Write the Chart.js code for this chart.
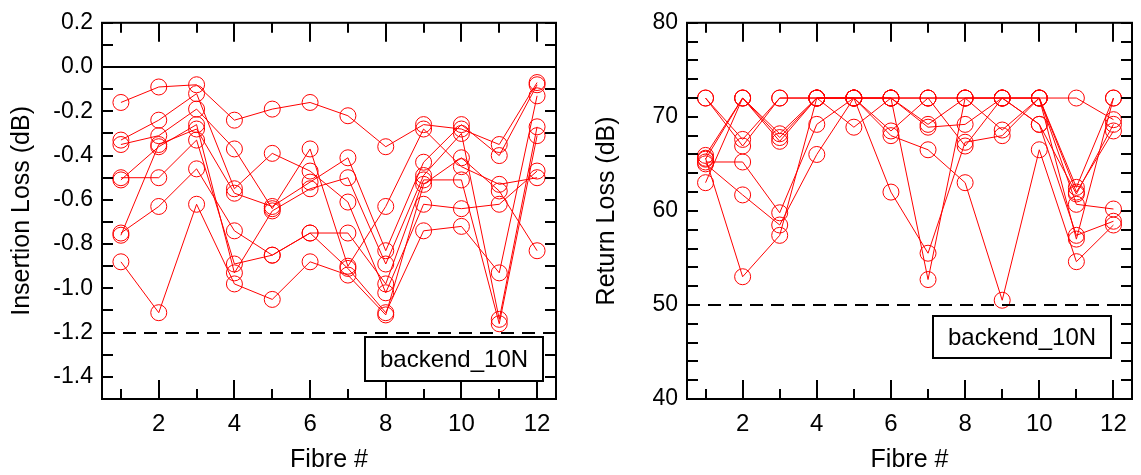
<!DOCTYPE html>
<html>
<head>
<meta charset="utf-8">
<script src="https://cdn.jsdelivr.net/npm/chart.js@4.4.0/dist/chart.umd.min.js"></script>
<style>
  body { margin: 0; background: #fff; }
  canvas { position: absolute; top: 0; }
  #ilChart { left: 0; }
  #rlChart { left: 570px; }
</style>
</head>
<body>
<canvas id="ilChart" width="570" height="475"></canvas>
<canvas id="rlChart" width="571" height="475"></canvas>
<script>
//#region data
const fibres = [1, 2, 3, 4, 5, 6, 7, 8, 9, 10, 11, 12];

// insertion loss (dB), one array per measured connector
const il1 = [-0.16, -0.09, -0.08, -0.24, -0.19, -0.16, -0.22, -0.36, -0.26, -0.28, -0.35, -0.07];
const il2 = [-0.33, -0.24, -0.12, -0.55, -0.39, -0.47, -0.61, -1.02, -0.62, -0.64, -0.62, -0.47];
const il3 = [-0.35, -0.31, -0.19, -0.37, -0.64, -0.37, -0.90, -0.63, -0.28, -0.45, -0.53, -0.50];
const il4 = [-0.50, -0.50, -0.33, -0.89, -0.85, -0.75, -0.91, -1.11, -0.74, -0.72, -0.93, -0.13];
const il5 = [-0.51, -0.36, -0.26, -0.93, -0.65, -0.55, -0.50, -0.89, -0.49, -0.30, -1.14, -0.27];
const il6 = [-0.75, -0.63, -0.46, -0.74, -0.85, -0.75, -0.75, -0.98, -0.51, -0.51, -1.16, -0.31];
const il7 = [-0.76, -0.35, -0.28, -0.57, -0.63, -0.52, -0.41, -0.83, -0.43, -0.26, -0.40, -0.08];
const il8 = [-0.88, -1.11, -0.62, -0.98, -1.05, -0.88, -0.94, -1.12, -0.53, -0.41, -0.56, -0.83];

// return loss (dB)
const rl1 = [72, 66.9, 72, 72, 72, 72, 72, 72, 72, 72, 72, 69.7];
const rl2 = [65.9, 72, 68.2, 72, 72, 68.5, 72, 72, 68.6, 72, 62.5, 72];
const rl3 = [65.5, 72, 67.8, 72, 68.9, 72, 69.2, 72, 72, 69.2, 61.8, 69.2];
const rl4 = [65.2, 65.2, 59.8, 69.2, 72, 72, 68.9, 69.2, 72, 72, 62.0, 68.5];
const rl5 = [65.0, 61.7, 58.5, 66.0, 72, 62.0, 55.5, 67.3, 68.0, 72, 60.7, 60.2];
const rl6 = [63.0, 72, 67.4, 72, 72, 72, 52.7, 72, 72, 69.2, 57.4, 58.9];
const rl7 = [65.6, 53.0, 57.4, 72, 72, 68.0, 66.5, 63.0, 50.5, 66.5, 54.6, 58.5];
const rl8 = [72, 67.6, 72, 72, 72, 72, 72, 66.9, 72, 72, 57.0, 72];

const limitIL = -1.2;
const limitRL = 50;
const legendText = "backend_10N";
//#endregion

Chart.defaults.font.family = "'Liberation Sans', Arial, sans-serif";
Chart.defaults.color = "#000";

function makeDataset(values) {
  return {
    data: values.map((v, i) => ({ x: fibres[i], y: v })),
    borderColor: "#ff0000",
    borderWidth: 1,
    tension: 0,
    fill: false,
    pointStyle: "circle",
    pointRadius: 8,
    pointBorderWidth: 1,
    pointBorderColor: "#ff0000",
    pointBackgroundColor: "rgba(0,0,0,0)",
  };
}

// frame, inward ticks on all sides, reference lines and the label box
const framePlugin = {
  id: "frame",
  afterDatasetsDraw(chart, args, opts) {
    const { ctx, chartArea: a, scales } = chart;
    const x = scales.x, y = scales.y;
    ctx.save();
    ctx.strokeStyle = "#000";
    ctx.lineWidth = 2;

    // x ticks: long at labelled (even) fibres
    x.ticks.forEach(t => {
      const px = Math.round(x.getPixelForValue(t.value));
      const len = t.value % 2 === 0 ? 19 : 10;
      ctx.beginPath();
      ctx.moveTo(px, a.bottom); ctx.lineTo(px, a.bottom - len);
      ctx.moveTo(px, a.top); ctx.lineTo(px, a.top + len);
      ctx.stroke();
    });
    y.ticks.forEach(t => {
      const py = Math.round(y.getPixelForValue(t.value));
      ctx.beginPath();
      ctx.moveTo(a.left, py); ctx.lineTo(a.left + 11, py);
      ctx.moveTo(a.right, py); ctx.lineTo(a.right - 11, py);
      ctx.stroke();
    });

    if (opts.zeroLine) {
      const pz = Math.round(y.getPixelForValue(0));
      ctx.beginPath();
      ctx.moveTo(a.left, pz); ctx.lineTo(a.right, pz);
      ctx.stroke();
    }

    const pl = Math.round(y.getPixelForValue(opts.limit));
    ctx.setLineDash([13, 8]);
    ctx.beginPath();
    ctx.moveTo(a.left, pl); ctx.lineTo(a.right, pl);
    ctx.stroke();
    ctx.setLineDash([]);

    ctx.strokeRect(a.left, a.top, a.right - a.left, a.bottom - a.top);

    // label box
    const bw = 178, bh = opts.boxH;
    const bx = a.right - opts.boxRight - bw;
    const by = a.bottom - opts.boxBottom - bh;
    ctx.fillStyle = "#fff";
    ctx.fillRect(bx, by, bw, bh);
    ctx.strokeRect(bx, by, bw, bh);
    ctx.fillStyle = "#000";
    ctx.font = "24px 'Liberation Sans', Arial, sans-serif";
    ctx.textAlign = "center";
    ctx.textBaseline = "middle";
    ctx.fillText(legendText, bx + bw / 2, by + bh / 2 + 1);
    ctx.restore();
  }
};

function xScale() {
  return {
    type: "linear",
    min: 0.5,
    max: 12.5,
    grid: { display: false, drawTicks: false },
    border: { display: false },
    // one tick per fibre, not at the half-integer bounds
    afterBuildTicks(scale) { scale.ticks = fibres.map(v => ({ value: v })); },
    ticks: {
      autoSkip: false,
      maxRotation: 0,
      padding: 11,
      font: { size: 24 },
      callback: v => (v % 2 === 0 ? String(v) : ""),
    },
    title: { display: true, text: "Fibre #", font: { size: 25 }, padding: { top: 0, bottom: 0 } },
    afterFit(scale) { scale.height = 76; },
  };
}

new Chart(document.getElementById("ilChart").getContext("2d"), {
  type: "line",
  data: { datasets: [il1, il2, il3, il4, il5, il6, il7, il8].map(makeDataset) },
  options: {
    responsive: false,
    animation: false,
    devicePixelRatio: 1,
    layout: { padding: { left: 0, right: 14, top: 19, bottom: 0 } },
    scales: {
      x: xScale(),
      y: {
        type: "linear",
        min: -1.5,
        max: 0.2,
        grid: { display: false, drawTicks: false },
        border: { display: false },
        ticks: {
          stepSize: 0.1,
          autoSkip: false,
          padding: 9,
          font: { size: 23 },
          callback: v => {
            const k = Math.round(v * 10);
            if (k % 2 !== 0) return "";
            return k === 0 ? "0.0" : (k / 10).toFixed(1);
          },
        },
        title: { display: true, text: "Insertion Loss (dB)", font: { size: 25 }, padding: { top: 7, bottom: 0 } },
        afterFit(scale) { scale.width = 102; },
      },
    },
    plugins: {
      legend: { display: false },
      tooltip: { enabled: false },
      frame: { zeroLine: true, limit: limitIL, boxRight: 13, boxBottom: 18, boxH: 44 },
    },
  },
  plugins: [framePlugin],
});

new Chart(document.getElementById("rlChart").getContext("2d"), {
  type: "line",
  data: { datasets: [rl1, rl2, rl3, rl4, rl5, rl6, rl7, rl8].map(makeDataset) },
  options: {
    responsive: false,
    animation: false,
    devicePixelRatio: 1,
    layout: { padding: { left: 0, right: 1, top: 19, bottom: 0 } },
    scales: {
      x: xScale(),
      y: {
        type: "linear",
        min: 40,
        max: 80,
        grid: { display: false, drawTicks: false },
        border: { display: false },
        ticks: {
          stepSize: 2,
          autoSkip: false,
          padding: 9,
          font: { size: 23 },
          callback: v => (v % 10 === 0 ? String(v) : ""),
        },
        title: { display: true, text: "Return Loss (dB)", font: { size: 25 }, padding: { top: 22, bottom: 0 } },
        afterFit(scale) { scale.width = 117; },
      },
    },
    plugins: {
      legend: { display: false },
      tooltip: { enabled: false },
      frame: { zeroLine: false, limit: limitRL, boxRight: 21, boxBottom: 41, boxH: 42 },
    },
  },
  plugins: [framePlugin],
});
</script>
</body>
</html>
